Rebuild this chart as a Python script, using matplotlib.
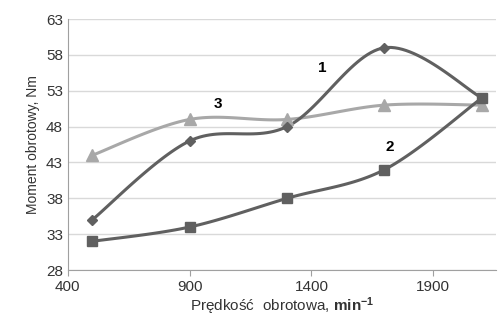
import numpy as np
import matplotlib.pyplot as plt

plt.rcParams['font.family'] = ['Liberation Sans', 'DejaVu Sans']
plt.rcParams['mathtext.fontset'] = 'custom'
plt.rcParams['mathtext.rm'] = 'Liberation Sans'
plt.rcParams['mathtext.bf'] = 'Liberation Sans:bold'

speed = [500, 900, 1300, 1700, 2100]
moment_1 = [35, 46, 48, 59, 52]
moment_2 = [32, 34, 38, 42, 52]
moment_3 = [44, 49, 49, 51, 51]


def smooth(x, y, n=30):
    # Catmull-Rom style smoothing, similar to Excel "smoothed line"
    x = np.asarray(x, float)
    y = np.asarray(y, float)
    px = np.concatenate([[x[0]], x, [x[-1]]])
    py = np.concatenate([[y[0]], y, [y[-1]]])
    xs, ys = [], []
    t = np.linspace(0, 1, n)
    for i in range(1, len(px) - 2):
        p0, p1, p2, p3 = [np.array([px[k], py[k]]) for k in range(i - 1, i + 3)]
        c1 = p1 + (p2 - p0) / 6
        c2 = p2 - (p3 - p1) / 6
        pts = ((1 - t) ** 3)[:, None] * p1 + (3 * (1 - t) ** 2 * t)[:, None] * c1 \
            + (3 * (1 - t) * t ** 2)[:, None] * c2 + (t ** 3)[:, None] * p2
        xs.extend(pts[:, 0])
        ys.extend(pts[:, 1])
    return xs, ys


fig = plt.figure(figsize=(4.99, 3.23), dpi=100)
ax = fig.add_axes([0.136, 0.164, 0.858, 0.777])

dark = '#606060'
light = '#a8a8a8'

series = [
    (moment_3, light, '^', 8),
    (moment_1, dark, 'D', 5),
    (moment_2, dark, 's', 7),
]
for vals, col, mk, ms in series:
    sx, sy = smooth(speed, vals)
    ax.plot(sx, sy, color=col, lw=2.2, zorder=3)
    ax.plot(speed, vals, mk, color=col, ms=ms, zorder=4)

ax.text(1445, 56.2, '1', fontsize=11, fontweight='bold', ha='center', va='center')
ax.text(1015, 51.1, '3', fontsize=11, fontweight='bold', ha='center', va='center')
ax.text(1720, 45.1, '2', fontsize=11, fontweight='bold', ha='center', va='center')

ax.set_xlim(400, 2158)
ax.set_ylim(28, 63)
ax.set_xticks([400, 900, 1400, 1900])
ax.set_yticks(np.arange(28, 64, 5))
ax.grid(axis='y', color='#d9d9d9', lw=1)
ax.set_axisbelow(True)
for s in ['top', 'right']:
    ax.spines[s].set_visible(False)
for s in ['left', 'bottom']:
    ax.spines[s].set_color('#a0a0a0')
ax.tick_params(axis='both', labelsize=11, colors='#a0a0a0', labelcolor='#333333', length=4)
ax.tick_params(axis='y', length=0)
ax.set_xlabel('Prędkość  obrotowa, $\\mathbf{min^{-1}}$', fontsize=11, color='#333333', labelpad=1)
ax.set_ylabel('Moment obrotowy, Nm', fontsize=10, color='#333333', labelpad=4)

fig.savefig('out.png', dpi=100)
